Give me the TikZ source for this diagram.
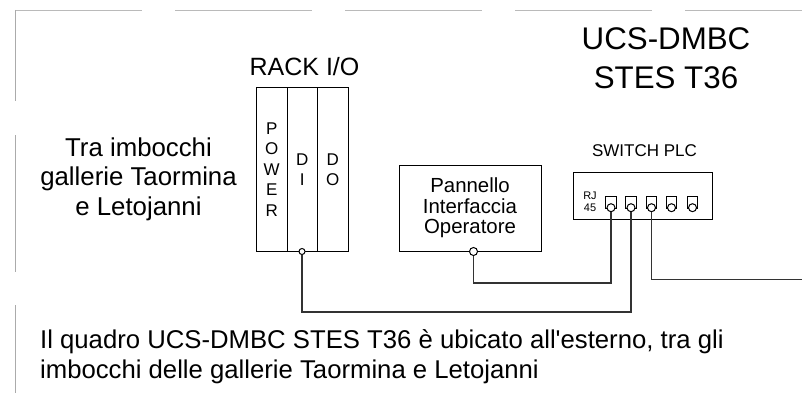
\documentclass[tikz,border=0pt]{standalone}
\usepackage{fontspec}
\setmainfont{Liberation Sans}
\tikzset{
	frameline/.style={draw=black!27, line width=1.6pt},
	sideline/.style={draw=black!33, line width=1pt},
	module/.style={draw, line width=1pt, inner sep=0pt, align=center, minimum width=30.5pt, minimum height=163pt, font=\fontsize{17}{20.5}\selectfont},
	box/.style={draw, line width=1pt, inner sep=0pt, align=center},
	portcap/.style={draw, line width=1pt, inner sep=0pt, minimum width=10.6pt, minimum height=12pt},
	port/.style={draw, circle, fill=white, line width=1pt, inner sep=0pt, minimum size=8pt},
	wire/.style={draw=black!80, line width=1.1pt},
	label/.style={inner sep=0pt, align=center}
}
\begin{document}
\begin{tikzpicture}[x=1pt, y=-1pt]
	\useasboundingbox (0, 0) rectangle (802, 393);

	%moldura
	\foreach \xa/\xb in {15/141.5, 175/312, 345/481.5, 515/652, 685/802}
		\draw[frameline] (\xa, 10.5) -- (\xb, 10.5);
	\foreach \ya/\yb in {10/101, 135/272, 305/393}
		\draw[sideline] (15, \ya) -- (15, \yb);

	%titoli
	\node[label, font=\fontsize{31.3}{39}\selectfont] (title) at (666, 58) {UCS-DMBC\\STES T36};
	\node[label, font=\fontsize{25.8}{29.5}\selectfont] (place) at (138.5, 179) {Tra imbocchi\\gallerie Taormina\\e Letojanni};

	%rack
	\node[label, font=\fontsize{25}{30}\selectfont] (racktitle) at (304.5, 66.5) {RACK I/O};
	\node[module] (power) at (271.75, 169.5) {P\\O\\W\\E\\R};
	\node[module] (di) at (302.25, 169.5) {D\\I};
	\node[module] (do) at (332.75, 169.5) {D\\O};
	\node[port, minimum size=6pt] (rackport) at (302, 251.5) {};

	%pannello
	\node[box, minimum width=142pt, minimum height=86pt, font=\fontsize{20.4}{20.5}\selectfont] (panel) at (470, 208) {Pannello\\Interfaccia\\Operatore};
	\node[port] (panelport) at (473.5, 251.5) {};

	%switch
	\node[label, font=\fontsize{17}{20}\selectfont] (switchtitle) at (644.5, 151) {SWITCH PLC};
	\node[box, minimum width=139.5pt, minimum height=47.5pt] (switch) at (642.75, 195.75) {};
	\node[label, font=\fontsize{11}{12}\selectfont] (rj) at (590, 202) {RJ\\45};
	\foreach \n/\x in {1/611, 2/631, 3/651.5, 4/671.5, 5/692.5}{
		\node[portcap] (cap\n) at (\x, 202) {};
		\node[port] (sw\n) at (\x, 207.7) {};
	}

	%cavi
	\coordinate (bendpanel) at (611, 283);
	\coordinate (bendrack) at (631, 312);
	\coordinate (lineout) at (802, 279.5);
	\draw[wire] (panelport) |- (bendpanel) -- (sw1);
	\draw[wire] (rackport) |- (bendrack) -- (sw2);
	\draw[wire] (sw3) |- (lineout);

	%nota
	\node[label, anchor=west, align=left, font=\fontsize{25.7}{30}\selectfont] (note) at (40, 357) {Il quadro UCS-DMBC STES T36 è ubicato all\textquotesingle esterno, tra gli\\imbocchi delle gallerie Taormina e Letojanni};
\end{tikzpicture}
\end{document}
